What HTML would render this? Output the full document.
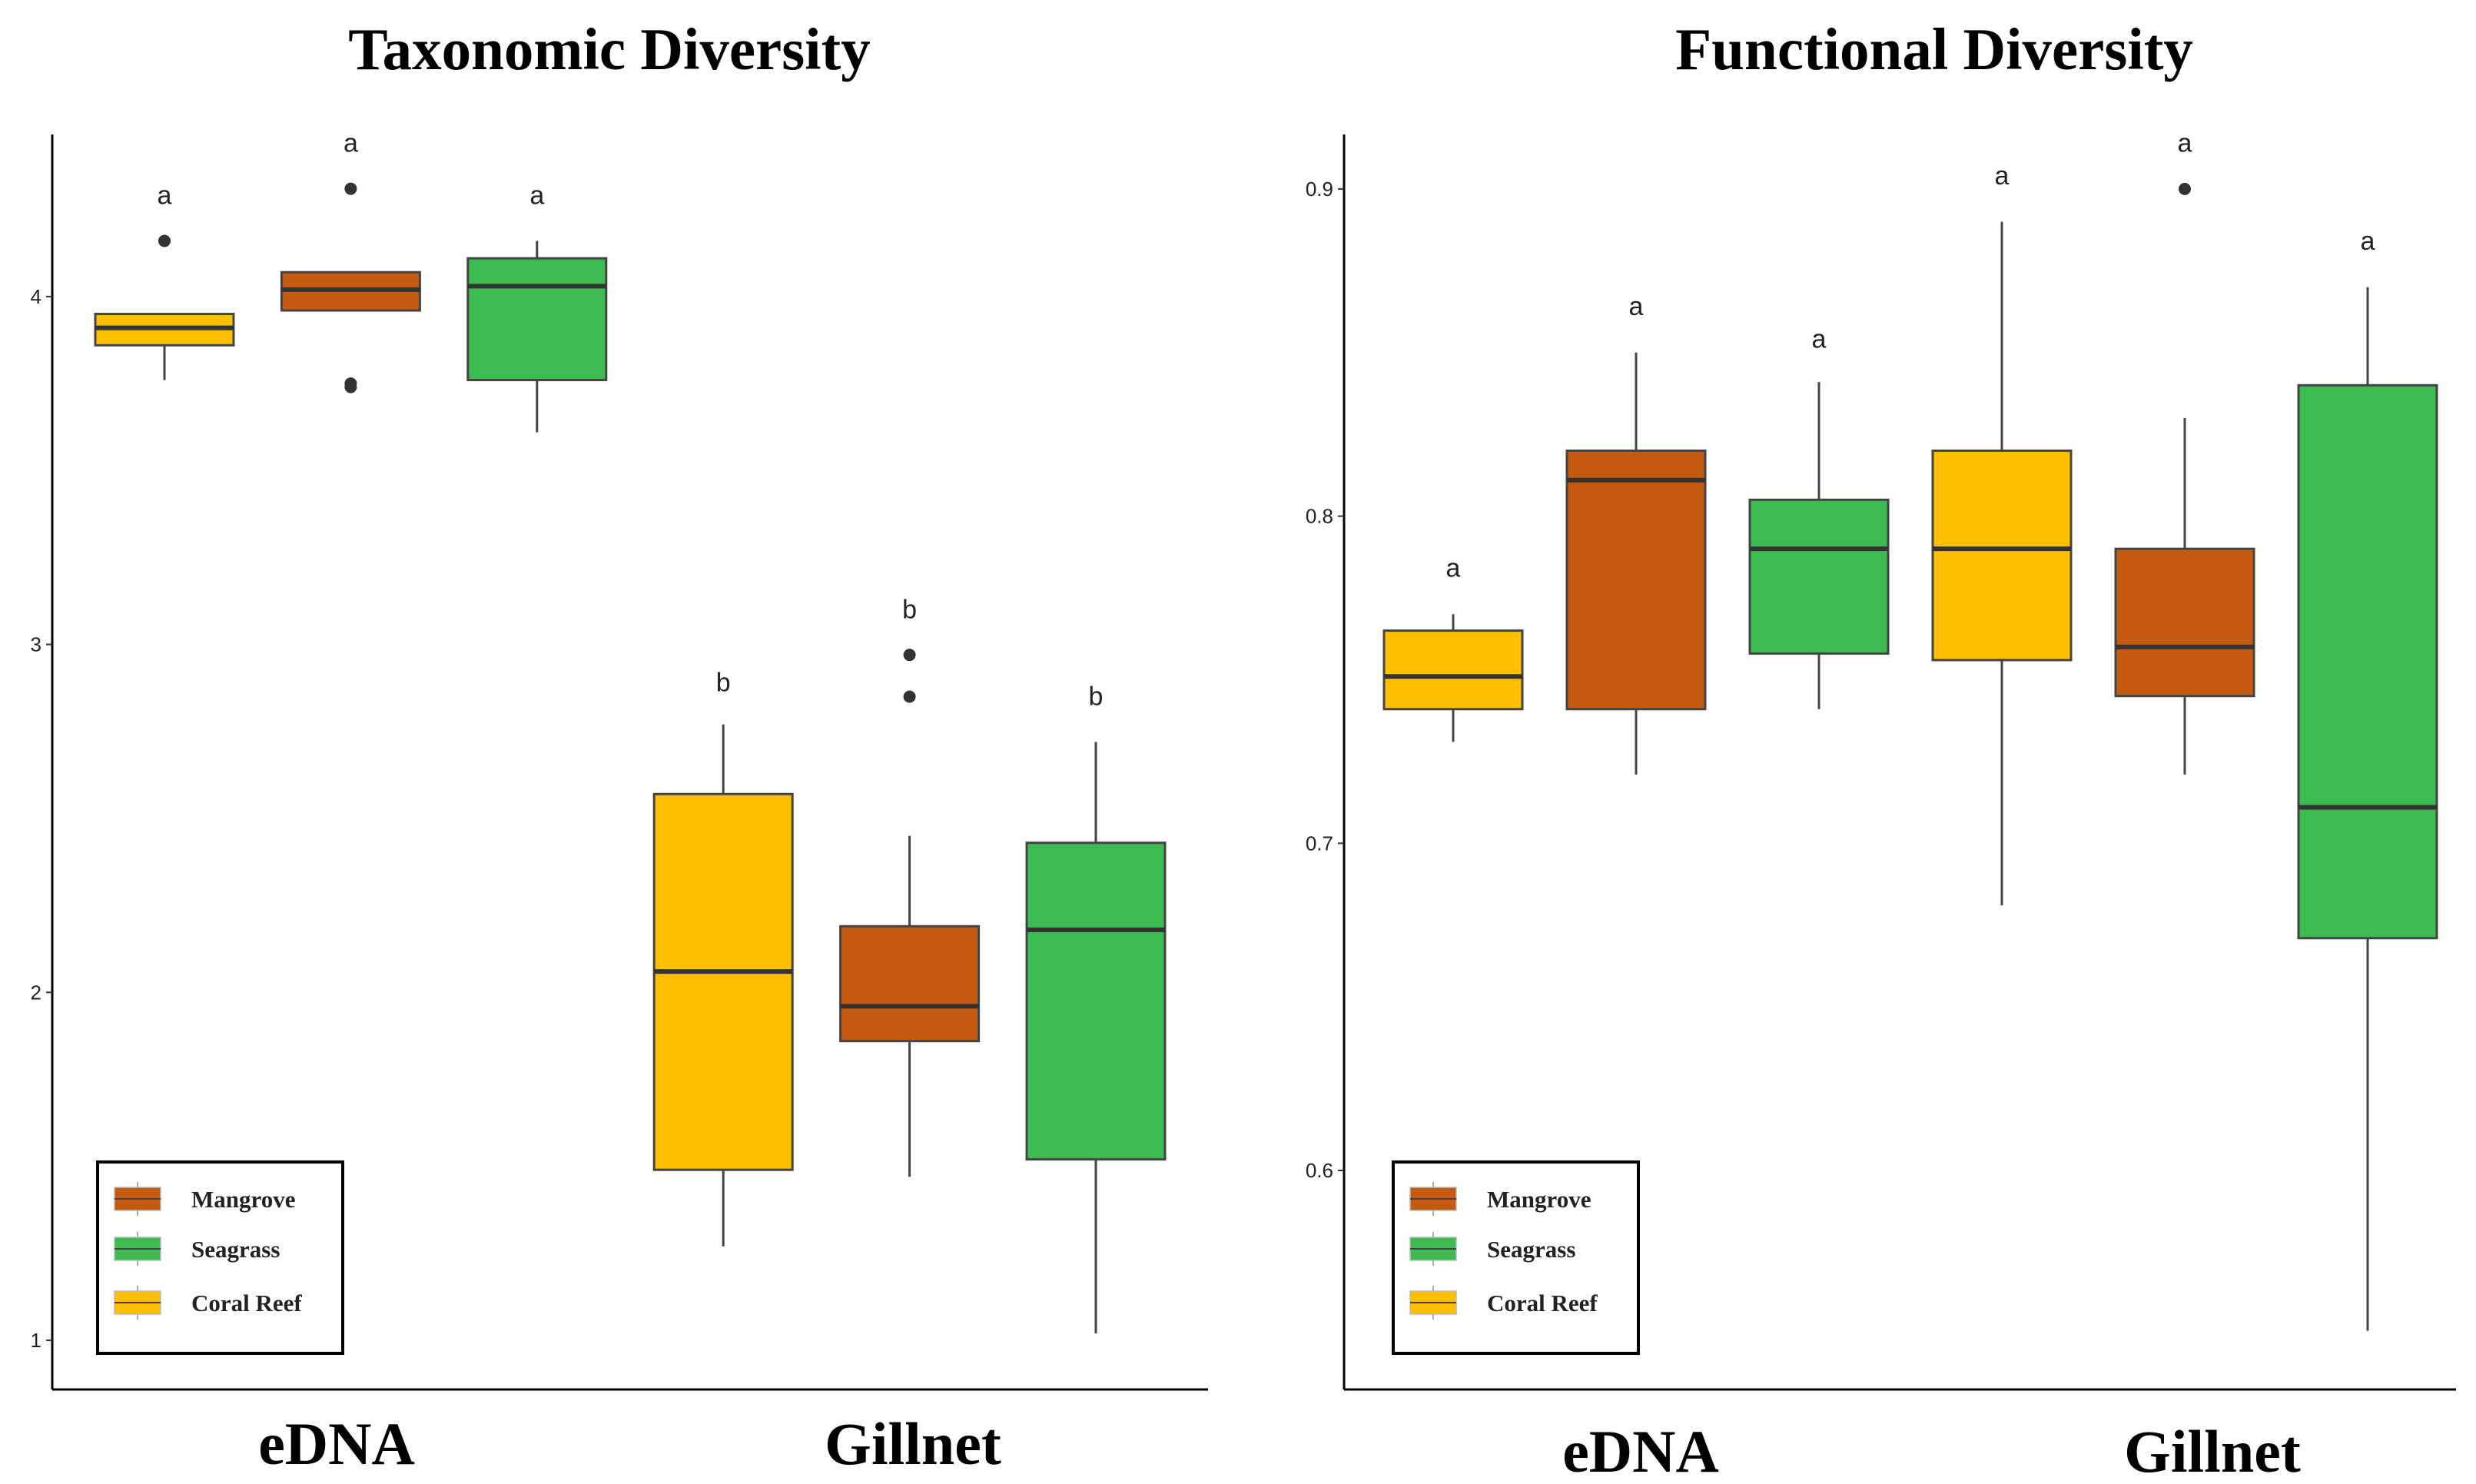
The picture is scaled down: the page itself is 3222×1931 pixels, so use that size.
<!DOCTYPE html>
<html><head><meta charset="utf-8"><style>
html,body{margin:0;padding:0;background:#fff;}
svg{display:block;}
</style></head><body>
<svg id="chart" xmlns="http://www.w3.org/2000/svg" width="3222" height="1931" viewBox="0 0 3222 1931">
<rect width="3222" height="1931" fill="#fff"/>
</svg>
<script>
// ---------- data ----------
const categories = ["Coral Reef eDNA","Mangrove eDNA","Seagrass eDNA","Coral Reef Gillnet","Mangrove Gillnet","Seagrass Gillnet"];
const habitats = ["coral","mangrove","seagrass","coral","mangrove","seagrass"];
const groupLabels = ["eDNA","Gillnet"];
// Taxonomic diversity
const taxLow = [3.76,3.96,3.61,1.27,1.47,1.02];
const taxQ1 = [3.86,3.96,3.76,1.49,1.86,1.52];
const taxMed = [3.91,4.02,4.03,2.06,1.96,2.18];
const taxQ3 = [3.95,4.07,4.11,2.57,2.19,2.43];
const taxHigh = [3.95,4.07,4.16,2.77,2.45,2.72];
const taxOutliers = [[4.16],[4.31,3.75,3.74],[],[],[2.97,2.85],[]];
const taxLetters = ["a","a","a","b","b","b"];
const taxLetterPos = [4.29,4.44,4.29,2.89,3.10,2.85];
const taxTicks = [1,2,3,4];
// Functional diversity
const funLow = [0.731,0.721,0.741,0.681,0.721,0.551];
const funQ1 = [0.741,0.741,0.758,0.756,0.745,0.671];
const funMed = [0.751,0.811,0.790,0.790,0.760,0.711];
const funQ3 = [0.765,0.820,0.805,0.820,0.790,0.840];
const funHigh = [0.770,0.850,0.841,0.890,0.830,0.870];
const funOutliers = [[],[],[],[],[0.900],[]];
const funLetters = ["a","a","a","a","a","a"];
const funLetterPos = [0.784,0.864,0.854,0.904,0.914,0.884];
const funTicks = [0.6,0.7,0.8,0.9];
const legendNames = ["Mangrove","Seagrass","Coral Reef"];
const legendKeys = ["mangrove","seagrass","coral"];

const colors = {coral:"#FDBF00", mangrove:"#C55A11", seagrass:"#3BBB50"};
const NS = "http://www.w3.org/2000/svg";
const svg = document.getElementById("chart");
function mk(tag, attrs, parent){
  const e = document.createElementNS(NS, tag);
  for (const k in attrs) e.setAttribute(k, attrs[k]);
  (parent||svg).appendChild(e);
  return e;
}

function panel(cfg){
  const g = mk("g", {});
  
  
  const y = v => cfg.y0 - (v - cfg.v0) * cfg.pxPerUnit;
  const x = i => cfg.xStart + i * cfg.xStep;
  const t = mk("text", {x: cfg.titleX, y: 90, "text-anchor":"middle", "font-family":"Liberation Serif, serif", "font-weight":"bold", "font-size":77, fill:"#000"}, g);
  t.textContent = cfg.title;
  
  
  const ya = mk("line", {x1:cfg.axX, y1:175, x2:cfg.axX, y2:1808, stroke:"#000", "stroke-width":3}, g);
  
  
  const xa = mk("line", {x1:cfg.axX, y1:1808, x2:cfg.axRight, y2:1808, stroke:"#000", "stroke-width":3}, g);
  
  
  cfg.ticks.forEach(tv => {
    const yy = y(tv);
    mk("line", {x1:cfg.axX-8, y1:yy, x2:cfg.axX, y2:yy, stroke:"#333", "stroke-width":2}, g);
    const tl = mk("text", {x:cfg.axX-14, y:yy+9, "text-anchor":"end", "font-family":"Liberation Sans, sans-serif", "font-size":26, fill:"#222"}, g);
    tl.textContent = String(tv);
    
    
  });
  const hw = 90;
  for (let i = 0; i < categories.length; i++){
    const cx = x(i);
    const bg = mk("g", {}, g);
    
    
    mk("line", {x1:cx, y1:y(cfg.high[i]), x2:cx, y2:y(cfg.q3[i]), stroke:"#444", "stroke-width":3}, bg);
    mk("line", {x1:cx, y1:y(cfg.q1[i]), x2:cx, y2:y(cfg.low[i]), stroke:"#444", "stroke-width":3}, bg);
    mk("rect", {x:cx-hw, y:y(cfg.q3[i]), width:hw*2, height:y(cfg.q1[i])-y(cfg.q3[i]), fill:colors[habitats[i]], stroke:"#444", "stroke-width":3}, bg);
    mk("line", {x1:cx-hw, y1:y(cfg.med[i]), x2:cx+hw, y2:y(cfg.med[i]), stroke:"#333", "stroke-width":6}, bg);
    cfg.out[i].forEach(o => {
      const d = mk("circle", {cx:cx, cy:y(o), r:8, fill:"#333"}, bg);
      
      
    });
    const lt = mk("text", {x:cx, y:y(cfg.letterPos[i])+11, "text-anchor":"middle", "font-family":"Liberation Sans, sans-serif", "font-size":34, fill:"#222"}, g);
    lt.textContent = cfg.letters[i];
    
    
  }
  groupLabels.forEach((gl, j) => {
    const tx = mk("text", {x:cfg.groupX[j], y:cfg.groupY, "text-anchor":"middle", "font-family":"Liberation Serif, serif", "font-weight":"bold", "font-size":78, fill:"#000"}, g);
    tx.textContent = gl;
    
    
  });
  const lg = mk("g", {}, g);
  
  
  mk("rect", {x:cfg.legX, y:1512, width:319, height:249, fill:"#fff", stroke:"#000", "stroke-width":4}, lg);
  const rows = [1560, 1625, 1695];
  legendNames.forEach((n, k) => {
    const eg = mk("g", {}, lg);
    
    
    const kx = cfg.legX + 22, ky = rows[k];
    mk("line", {x1:kx+30, y1:ky-22, x2:kx+30, y2:ky+22, stroke:"#aaa", "stroke-width":2}, eg);
    mk("rect", {x:kx, y:ky-15, width:60, height:30, fill:colors[legendKeys[k]], stroke:"#bbb", "stroke-width":1.5}, eg);
    mk("line", {x1:kx, y1:ky, x2:kx+60, y2:ky, stroke:"#444", "stroke-width":2}, eg);
    const lt = mk("text", {x:cfg.legX+122, y:ky+11, "font-family":"Liberation Serif, serif", "font-weight":"bold", "font-size":31, fill:"#222"}, eg);
    lt.textContent = n;
  });
}

panel({name:"taxonomic-panel", title:"Taxonomic Diversity", titleX:793, axX:68, axRight:1572,
  v0:1, y0:1744, pxPerUnit:452.7, xStart:214, xStep:242.4, ticks:taxTicks,
  low:taxLow, q1:taxQ1, med:taxMed, q3:taxQ3, high:taxHigh, out:taxOutliers,
  letters:taxLetters, letterPos:taxLetterPos, groupX:[438,1188], groupY:1905, legX:127});
panel({name:"functional-panel", title:"Functional Diversity", titleX:2517, axX:1749, axRight:3196,
  v0:0.6, y0:1523, pxPerUnit:4257, xStart:1891, xStep:238, ticks:funTicks,
  low:funLow, q1:funQ1, med:funMed, q3:funQ3, high:funHigh, out:funOutliers,
  letters:funLetters, letterPos:funLetterPos, groupX:[2135,2879], groupY:1915, legX:1813});
</script>
</body></html>
